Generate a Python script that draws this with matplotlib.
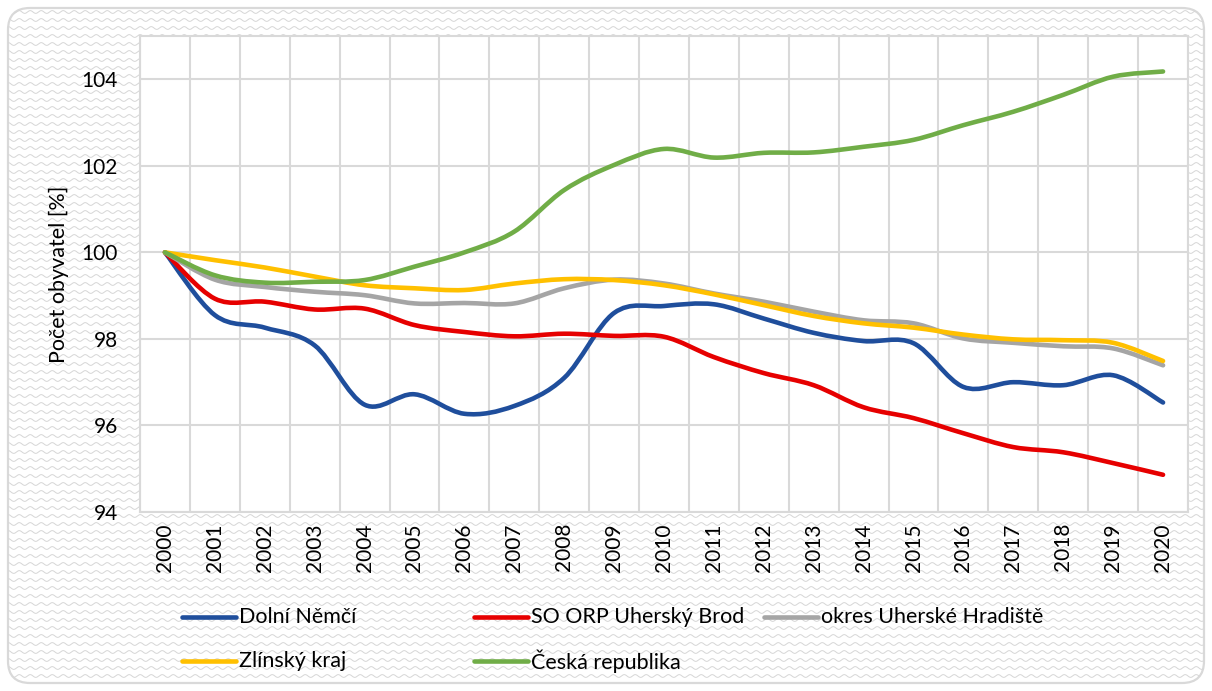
import numpy as np
import matplotlib
matplotlib.use('Agg')
import matplotlib.pyplot as plt
from matplotlib.path import Path
from matplotlib.patches import PathPatch, FancyBboxPatch
from matplotlib.lines import Line2D

YEARS = [str(y) for y in range(2000, 2021)]

DOLNI_NEMCI = [100.0, 98.55, 98.26, 97.85, 96.48, 96.72, 96.27, 96.45, 97.1, 98.6,
               98.76, 98.8, 98.47, 98.14, 97.95, 97.9, 96.89, 97.0, 96.93, 97.16, 96.53]
ORP_UH_BROD = [100.0, 98.93, 98.86, 98.68, 98.7, 98.32, 98.16, 98.06, 98.12, 98.07,
               98.05, 97.58, 97.21, 96.93, 96.42, 96.17, 95.82, 95.5, 95.38, 95.13, 94.86]
OKRES_UH = [100.0, 99.37, 99.2, 99.09, 99.01, 98.82, 98.83, 98.82, 99.17, 99.37,
            99.28, 99.05, 98.86, 98.63, 98.43, 98.36, 98.01, 97.91, 97.83, 97.78, 97.39]
ZLINSKY = [100.0, 99.82, 99.65, 99.44, 99.24, 99.17, 99.13, 99.28, 99.38, 99.36,
           99.24, 99.03, 98.78, 98.53, 98.36, 98.26, 98.1, 97.99, 97.97, 97.91, 97.49]
CESKA_REP = [100.0, 99.47, 99.3, 99.32, 99.36, 99.67, 100.0, 100.48, 101.44, 102.02,
             102.39, 102.19, 102.3, 102.31, 102.44, 102.6, 102.94, 103.25, 103.64, 104.06, 104.18]

LABELS = ('Dolní Němčí', 'SO ORP Uherský Brod', 'okres Uherské Hradiště',
          'Zlínský kraj', 'Česká republika')
COLORS = ('#1f4e9c', '#e60000', '#a5a5a5', '#ffc000', '#70ad47')
Y_TICKS = [94, 96, 98, 100, 102, 104]

W, H = 1212, 691
LW = 3.3
FONT = ['Lato', 'DejaVu Sans']


def smooth_path(xs, ys):
    # Excel-like smoothed line: cubic bezier segments (Catmull-Rom control points)
    pts = np.column_stack([xs, ys]).astype(float)
    n = len(pts)
    verts = [pts[0]]
    codes = [Path.MOVETO]
    for i in range(n - 1):
        p_prev = pts[max(i - 1, 0)]
        p0, p1 = pts[i], pts[i + 1]
        p_next = pts[min(i + 2, n - 1)]
        c1 = p0 + (p1 - p_prev) / 6.0
        c2 = p1 - (p_next - p0) / 6.0
        verts += [c1, c2, p1]
        codes += [Path.CURVE4] * 3
    return Path(verts, codes)


def main():
    plt.rcParams['font.family'] = FONT
    fig = plt.figure(figsize=(W / 100, H / 100), dpi=100)
    fig.patch.set_facecolor('white')

    # background with rounded border and wavy texture
    bg = fig.add_axes([0, 0, 1, 1], zorder=-5)
    bg.set_xlim(0, W)
    bg.set_ylim(H, 0)
    bg.axis('off')
    frame = FancyBboxPatch((8, 8), W - 16, H - 16,
                           boxstyle='round,pad=0,rounding_size=22',
                           facecolor='white', edgecolor='#d9d9d9', lw=1.6)
    bg.add_patch(frame)
    wx = np.arange(8, W - 8, 1.0)
    for y0 in np.arange(12, H - 8, 8.0):
        ln, = bg.plot(wx, y0 + 1.4 * np.sin(2 * np.pi * wx / 11.0),
                      color='#d6d6d6', lw=0.7)
        ln.set_clip_path(frame)

    ax = fig.add_axes([140 / W, 1 - 512 / H, (1188 - 140) / W, (512 - 36) / H])
    ax.set_facecolor('white')

    x = np.arange(len(YEARS))
    series = (DOLNI_NEMCI, ORP_UH_BROD, OKRES_UH, ZLINSKY, CESKA_REP)
    for vals, color in zip(series, COLORS):
        patch = PathPatch(smooth_path(x, vals), fill=False, edgecolor=color,
                          lw=LW, capstyle='round', joinstyle='round', zorder=3)
        ax.add_patch(patch)

    ax.set_xlim(-0.5, len(YEARS) - 0.5)
    ax.set_ylim(94, 105)
    ax.set_yticks(Y_TICKS)
    ax.set_yticklabels([str(t) for t in Y_TICKS])
    ax.set_xticks(x)
    ax.set_xticklabels(YEARS, rotation=90)
    ax.set_xticks(np.arange(len(YEARS) + 1) - 0.5, minor=True)
    ax.tick_params(axis='both', which='both', length=0, labelsize=15,
                   colors='black')
    ax.tick_params(axis='y', pad=16)
    ax.tick_params(axis='x', pad=8)
    ax.grid(False)
    for t in Y_TICKS:
        ax.axhline(t, color='#d9d9d9', lw=1.5, zorder=1)
    ax.grid(True, axis='x', which='minor', color='#d9d9d9', lw=1.5, zorder=1)
    for sp in ax.spines.values():
        sp.set_color('#d9d9d9')
        sp.set_linewidth(1.5)
    ax.set_ylabel('Počet obyvatel [%]', fontsize=15.5)
    ax.yaxis.set_label_coords((69 - 140) / 1048, 0.5)

    # legend, laid out like the Excel one
    slots = [(182, 617), (474, 617), (764, 617), (182, 661), (474, 661)]
    for (lx, ly), label, color in zip(slots, LABELS, COLORS):
        fig.add_artist(Line2D([lx / W, (lx + 54) / W], [1 - ly / H, 1 - ly / H],
                              transform=fig.transFigure, color=color, lw=LW,
                              solid_capstyle='round'))
        fig.text((lx + 57) / W, 1 - ly / H, label, fontsize=15.5,
                 va='center', ha='left')

    fig.savefig('out.png', dpi=100)


if __name__ == '__main__':
    main()
